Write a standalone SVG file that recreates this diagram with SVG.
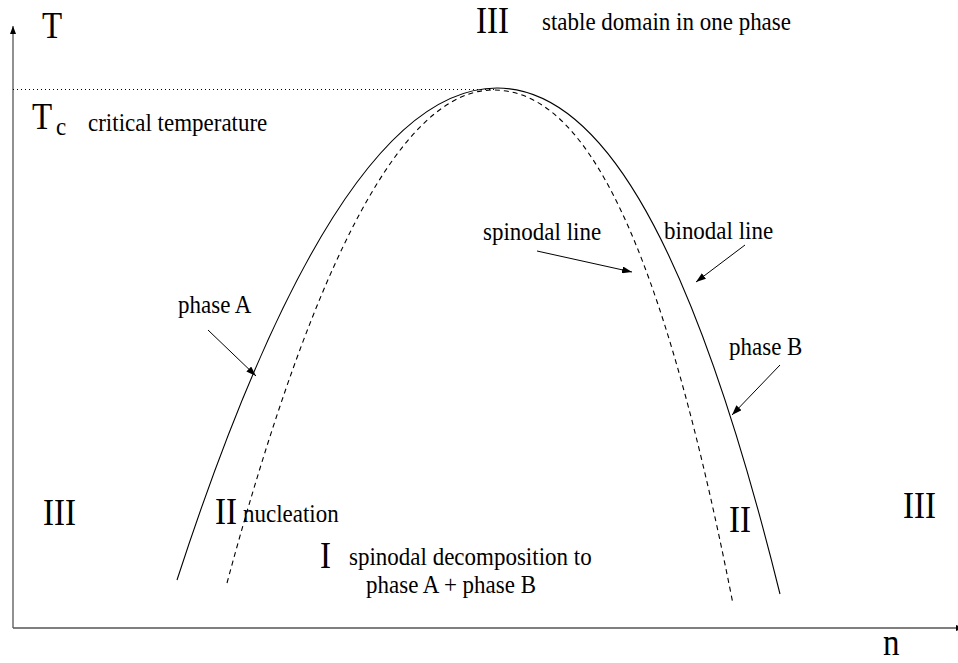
<svg xmlns="http://www.w3.org/2000/svg" width="958" height="663" viewBox="0 0 958 663">
<defs>
<marker id="ah" viewBox="0 0 10 7" refX="10" refY="3.5" markerWidth="10" markerHeight="7" markerUnits="userSpaceOnUse" orient="auto">
<path d="M0,0 L10,3.5 L0,7 Z" fill="#000"/>
</marker>
<marker id="axh" viewBox="0 0 8 6" refX="8" refY="3" markerWidth="8" markerHeight="6" markerUnits="userSpaceOnUse" orient="auto">
<path d="M0,0 L8,3 L0,6 Z" fill="#000"/>
</marker>
</defs>
<style>
text{font-family:"Liberation Serif","Times New Roman",serif;fill:#000}
.lbl{font-size:23px}
.big{font-size:33px}
.crv{fill:none;stroke:#000;stroke-width:1.1}
.arr{fill:none;stroke:#000;stroke-width:1;marker-end:url(#ah)}
.ax{fill:none;stroke:#555;stroke-width:1.3}
</style>
<rect width="958" height="663" fill="#fff"/>
<g id="axes">
<line class="ax" x1="13" y1="628" x2="13" y2="26" marker-end="url(#axh)"/>
<line class="ax" x1="13" y1="628" x2="964" y2="628" marker-end="url(#axh)"/>
<line x1="13" y1="89.5" x2="497" y2="89.5" stroke="#000" stroke-width="1" stroke-dasharray="1,3"/>
</g>
<g id="binodal">
<path class="crv" d="M177,580 C283.7,252 390.3,88 497,88 C591.3,88 685.7,213 780,594"/>
</g>
<g id="spinodal">
<path class="crv" stroke-dasharray="5,4" d="M227,583 C315.7,254.3 404.3,90 493,90 C573,90 653,197 733,604"/>
</g>
<g id="connectors">
<line class="arr" x1="208" y1="330" x2="256" y2="376"/>
<line class="arr" x1="537" y1="251" x2="632" y2="272"/>
<line class="arr" x1="745" y1="245" x2="696" y2="282"/>
<line class="arr" x1="780" y1="365" x2="732" y2="415"/>
</g>
<g id="labels">
<text class="big" transform="translate(42,38) scale(1,1.12)">T</text>
<text class="big" transform="translate(476,33) scale(1,1.12)">III</text>
<text class="lbl" transform="translate(542,30) scale(1,1.12)">stable domain in one phase</text>
<text class="big" transform="translate(32,129) scale(1,1.12)">T</text>
<text class="lbl" transform="translate(56,135) scale(1,1.12)">c</text>
<text class="lbl" transform="translate(88,131) scale(1,1.12)">critical temperature</text>
<text class="lbl" transform="translate(178,313) scale(1,1.12)">phase A</text>
<text class="lbl" transform="translate(483,240) scale(1,1.12)">spinodal line</text>
<text class="lbl" transform="translate(664,239) scale(1,1.12)">binodal line</text>
<text class="lbl" transform="translate(729,355) scale(1,1.12)">phase B</text>
<text class="big" transform="translate(43,525) scale(1,1.12)">III</text>
<text class="big" transform="translate(215,524) scale(1,1.12)">II</text>
<text class="lbl" transform="translate(243,522) scale(1,1.12)">nucleation</text>
<text class="big" transform="translate(320,568) scale(1,1.12)">I</text>
<text class="lbl" transform="translate(349,565) scale(1,1.12)">spinodal decomposition to</text>
<text class="lbl" transform="translate(366,593) scale(1,1.12)">phase A + phase B</text>
<text class="big" transform="translate(729,532) scale(1,1.12)">II</text>
<text class="big" transform="translate(903,518) scale(1,1.12)">III</text>
<text class="big" transform="translate(883,655) scale(1,1.12)">n</text>
</g>
</svg>
